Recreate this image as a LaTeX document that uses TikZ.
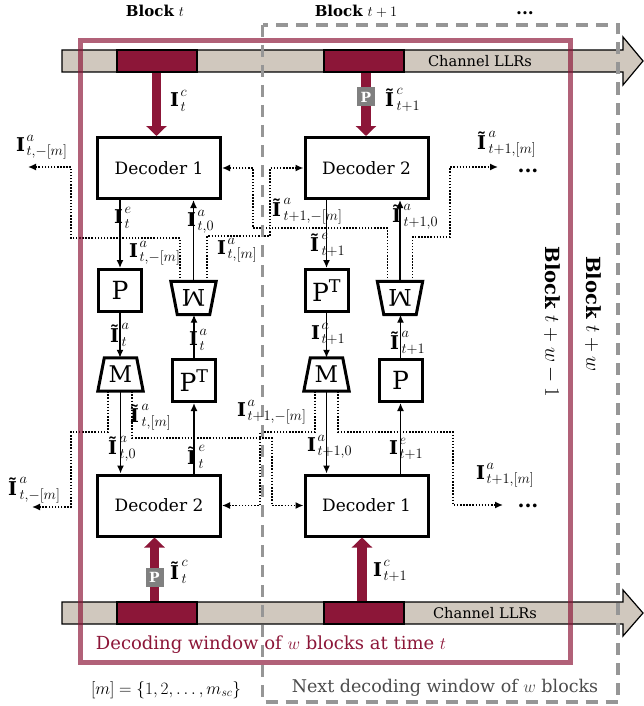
\documentclass[tikz,border=0pt]{standalone}
\usepackage{fontspec}
\setmainfont{DejaVu Serif}
\usetikzlibrary{arrows.meta,calc}
\DeclareMathSizes{19}{19}{14}{10}
\definecolor{burg}{RGB}{140,22,56}
\definecolor{beige}{RGB}{208,200,190}
\definecolor{dgray}{RGB}{150,150,150}
\definecolor{pgray}{RGB}{128,128,128}
\definecolor{tgray}{RGB}{75,75,75}
\newcommand{\setfs}[1]{\fontsize{#1}{#1}\selectfont}
\newcommand{\Ib}{\mbox{\bfseries I\kern1.5pt\rule{0pt}{15.5pt}}}
\newcommand{\Itl}{\mbox{\bfseries Ĩ\kern2.5pt}}
\begin{document}
\begin{tikzpicture}[x=1pt,y=-1pt,
  dec/.style={draw, line width=3pt, minimum width=123pt, minimum height=61pt, inner sep=0pt, font=\setfs{17}},
  sq/.style={draw, line width=3pt, minimum width=43pt, minimum height=42pt, inner sep=0pt, font=\setfs{25}},
  trap/.style={minimum width=45pt, minimum height=33pt, inner sep=0pt, font=\setfs{23}},
  trapline/.style={line width=3pt, line join=miter},
  sol/.style={line width=1.4pt, -{Latex[length=8pt,width=7pt]}},
  dotl/.style={line width=1.5pt, dash pattern=on 1.5pt off 1.6pt, -{Latex[length=8pt,width=7pt]}},
  lab/.style={inner sep=0pt, anchor=west, font=\setfs{19}},
  big/.style={line width=9.5pt, burg, -{Triangle[length=10pt,width=20pt]}},
  pbox/.style={fill=pgray, text=white, font=\setfs{14}\bfseries, inner sep=0pt, minimum width=18pt, minimum height=19pt},
  seg/.style={draw=black, line width=1.2pt, fill=burg, minimum width=80pt, minimum height=22pt, inner sep=0pt},
  bardraw/.style={draw=black, line width=1.2pt, fill=beige},
  hdr/.style={inner sep=0pt, font=\setfs{15}},
]
\useasboundingbox (0,0) rectangle (644,706);

% channel LLR bars
\path[bardraw] (62,50) -- (623,50) -- (623,37) -- (643,61) -- (623,85) -- (623,72) -- (62,72) -- cycle;
\path[bardraw] (62,602) -- (623,602) -- (623,590) -- (643,613) -- (623,636) -- (623,624) -- (62,624) -- cycle;
\node[inner sep=0pt, font=\setfs{14.6}] (llr1) at (480,61) {Channel LLRs};
\node[inner sep=0pt, font=\setfs{14.6}] (llr2) at (485,613) {Channel LLRs};
\node[seg] (c1) at (157,61) {};
\node[seg] (c2) at (364,61) {};
\node[seg] (c3) at (157,613) {};
\node[seg] (c4) at (364,613) {};

% decoders
\node[dec] (D1) at (159,168) {Decoder 1};
\node[dec] (D2) at (366.5,168) {Decoder 2};
\node[dec] (D3) at (159,505.5) {Decoder 2};
\node[dec] (D4) at (366.5,505.5) {Decoder 1};

% big channel arrows
\draw[big] ([xshift=-0.5pt]c1.south) -- ([xshift=-0.5pt]c1.south |- D1.north);
\draw[big] ([xshift=2pt]c2.south) -- ([xshift=2pt]c2.south |- D2.north);
\draw[big] ([xshift=-2.5pt]c3.north) -- ([xshift=-2.5pt]c3.north |- D3.south);
\draw[big] ([xshift=-2pt]c4.north) -- ([xshift=-2pt]c4.north |- D4.south);
\node[pbox] (pb1) at (366,97) {P};
\node[pbox] (pb2) at (154.5,577) {P};
\node[lab] (lc1) at (170,101) {$\Ib^c_t$};
\node[lab] (lc2) at (385,100) {$\Itl^c_{t+1}$};
\node[lab] (lc3) at (170,572) {$\Itl^c_t$};
\node[lab] (lc4) at (373,571) {$\Ib^c_{t+1}$};

% interleavers and (de)multiplexers
\node[sq] (P1) at (120,290.5) {P};
\node[sq] (PT1) at (194,380.5) {P\textsuperscript{T}};
\node[sq] (PT2) at (326.5,290.5) {P\textsuperscript{T}};
\node[sq] (P2) at (400.5,380.5) {P};
\node[trap] (M1) at (120.5,374.5) {M};
\node[trap] (W1) at (193.5,298) {\rotatebox{180}{M}};
\node[trap] (M2) at (326.5,374.5) {M};
\node[trap] (W2) at (400,298) {\rotatebox{180}{M}};
\foreach \m in {M1,M2}{
  \draw[trapline] (\m.south west) -- (\m.south east) -- ([xshift=-6.5pt]\m.north east) -- ([xshift=6.5pt]\m.north west) -- cycle;}
\foreach \w in {W1,W2}{
  \draw[trapline] (\w.north west) -- (\w.north east) -- ([xshift=-6.5pt]\w.south east) -- ([xshift=6.5pt]\w.south west) -- cycle;}

% solid connectors
\draw[sol] (D1.south -| P1.north) -- (P1.north);
\draw[sol] (P1.south) -- (P1.south |- M1.north);
\draw[sol] (M1.south) -- (M1.south |- D3.north);
\draw[sol] (D3.north -| PT1.south) -- (PT1.south);
\draw[sol] (PT1.north) -- (PT1.north |- W1.south);
\draw[sol] (W1.north) -- (W1.north |- D1.south);
\draw[sol] (D2.south -| PT2.north) -- (PT2.north);
\draw[sol] (PT2.south) -- (PT2.south |- M2.north);
\draw[sol] (M2.south) -- (M2.south |- D4.north);
\draw[sol] (D4.north -| P2.south) -- (P2.south);
\draw[sol] (P2.north) -- (P2.north |- W2.south);
\draw[sol] (W2.north) -- (W2.north |- D2.south);

% dotted connectors
\coordinate (oL1) at (28,167);
\coordinate (oR1) at (498,167);
\coordinate (oL2) at (32,507);
\coordinate (oR2) at (503,505);
\draw[dotl] ([xshift=9pt]W1.north west) |- (71,238) |- (oL1);
\draw[dotl] ([xshift=-9pt]W1.north east) |- (270,236) |- (D2.west);
\draw[dotl] ([xshift=10pt]W2.north west) |- (253,228) |- (D1.east);
\draw[dotl] ([xshift=-10pt]W2.north east) |- (450,237) |- (oR1);
\draw[dotl] ([xshift=10pt]M1.south west) |- (71,432) |- (oL2);
\draw[dotl] ([xshift=-11pt]M1.south east) |- (272,438) |- (D4.west);
\draw[dotl] ([xshift=11pt]M2.south west) |- (260,432) |- (D3.east);
\draw[dotl] ([xshift=-11pt]M2.south east) |- (453,432) |- (oR2);
\node[inner sep=0pt, font=\setfs{20}\bfseries] (dt1) at (528,170.5) {...};
\node[inner sep=0pt, font=\setfs{20}\bfseries] (dt2) at (528,506) {...};

% windows
\draw[burg, draw opacity=0.68, line width=5pt] (80.5,40.5) rectangle (570.5,662.5);
\draw[dgray, line width=3.5pt, dash pattern=on 12pt off 8pt] (262.5,25) rectangle (618,702);

% labels
\node[lab] at (16,147) {$\Ib^a_{t,-[m]}$};
\node[lab] at (114,218) {$\Ib^e_t$};
\node[lab] at (187,222) {$\Ib^a_{t,0}$};
\node[lab] at (129,253) {$\Ib^a_{t,-[m]}$};
\node[lab] at (217,250) {$\Ib^a_{t,[m]}$};
\node[lab] at (110,335) {$\Itl^a_t$};
\node[lab] at (189,340) {$\Ib^a_t$};
\node[lab] at (130,417) {$\Itl^a_{t,[m]}$};
\node[lab] at (108,449) {$\Itl^a_{t,0}$};
\node[lab] at (187,457) {$\Itl^e_t$};
\node[lab] at (237,412) {$\Ib^a_{t+1,-[m]}$};
\node[lab] at (8,490) {$\Itl^a_{t,-[m]}$};
\node[lab] at (272,211) {$\Itl^a_{t+1,-[m]}$};
\node[lab] at (392,217) {$\Itl^a_{t+1,0}$};
\node[lab] at (310,245) {$\Itl^e_{t+1}$};
\node[lab] at (311,334) {$\Ib^a_{t+1}$};
\node[lab] at (390,343) {$\Itl^a_{t+1}$};
\node[lab] at (307,447) {$\Ib^a_{t+1,0}$};
\node[lab] at (389,449) {$\Ib^e_{t+1}$};
\node[lab] at (476,475) {$\Ib^a_{t+1,[m]}$};
\node[lab] at (477,144) {$\Itl^a_{t+1,[m]}$};

% headings and captions
\node[hdr] (bt) at (155,11) {\textbf{Block} $t$};
\node[hdr] (bt1) at (356,11) {\textbf{Block} $t+1$};
\node[hdr, font=\setfs{17}\bfseries] (bdots) at (525,13) {...};
\node[inner sep=0pt, rotate=-90, font=\setfs{19.5}] (bw1) at (552,322) {\textbf{Block} $t+w-1$};
\node[inner sep=0pt, rotate=-90, font=\setfs{19.5}] (bw) at (593,314) {\textbf{Block} $t+w$};
\node[inner sep=0pt, text=burg, font=\setfs{18}] (dw) at (271,645) {Decoding window of $w$ blocks at time $t$};
\node[inner sep=0pt, font=\setfs{17.5}] (msc) at (166,690) {$[m]=\{1,2,\ldots,m_{sc}\}$};
\node[inner sep=0pt, text=tgray, font=\setfs{17.5}] (nw) at (445,688) {Next decoding window of $w$ blocks};
\end{tikzpicture}
\end{document}
